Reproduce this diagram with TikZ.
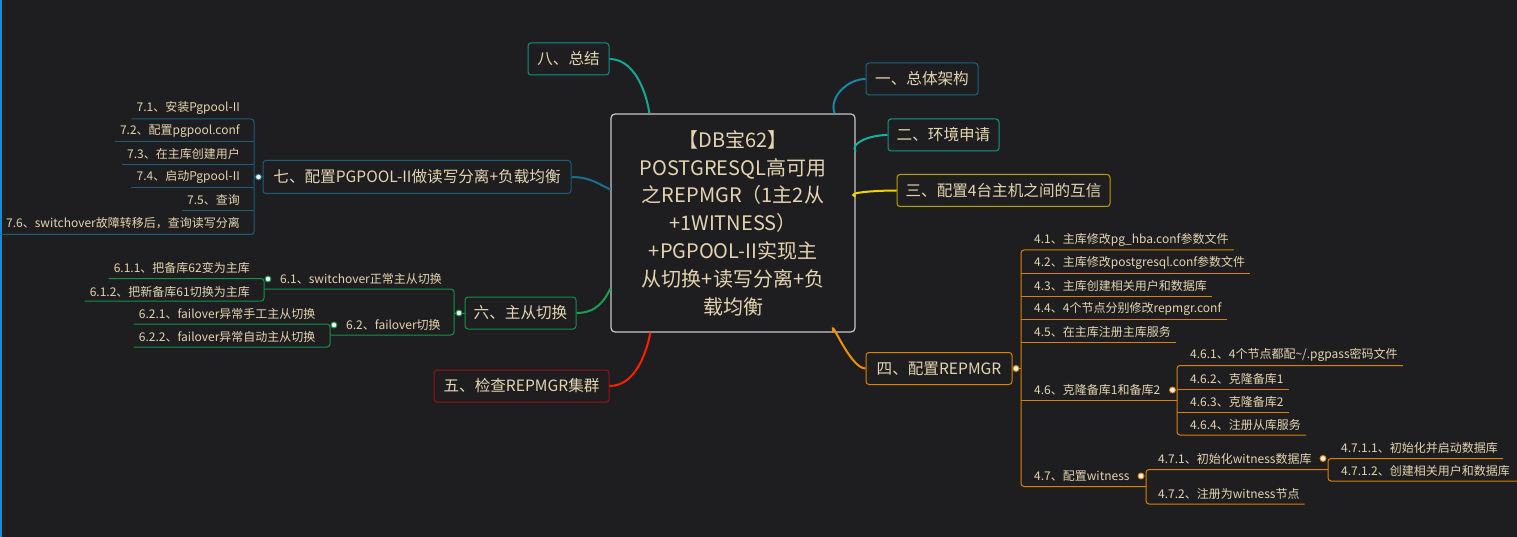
\documentclass[tikz,border=0pt]{standalone}
\usepackage{fontspec}
\setmainfont{Noto Sans CJK SC}
\definecolor{bg}{HTML}{1E1E20}
\definecolor{txt}{HTML}{E4D4B0}
\definecolor{cborder}{HTML}{C8C8C8}
\definecolor{edgeblue}{HTML}{1E88D0}
\definecolor{dotfill}{HTML}{F0F0F0}
\definecolor{b8}{HTML}{138F80}\definecolor{l8}{HTML}{12A898}
\definecolor{b1}{HTML}{17667E}\definecolor{l1}{HTML}{1586A8}
\definecolor{b2}{HTML}{139688}\definecolor{l2}{HTML}{16B0A0}
\definecolor{b3}{HTML}{B8A200}\definecolor{l3}{HTML}{F2D400}
\definecolor{b4}{HTML}{D98200}\definecolor{l4}{HTML}{F09000}
\definecolor{b5}{HTML}{A01010}\definecolor{l5}{HTML}{FF2000}
\definecolor{b6}{HTML}{14904A}\definecolor{l6}{HTML}{16A050}
\definecolor{b7}{HTML}{1A5E78}\definecolor{l7}{HTML}{1A6E90}
\tikzset{
  mainbox/.style={draw, rounded corners=3pt, line width=1pt, fill=bg, text=txt,
    font=\fontsize{15.6}{18}\selectfont, minimum height=32pt, inner sep=0pt},
  lab/.style={text=txt, font=\fontsize{12}{15}\selectfont, inner xsep=5pt, inner ysep=0pt},
  dotc/.style={circle, draw, fill=dotfill, minimum size=6pt, inner sep=0pt, line width=0.9pt},
  conn/.style={line width=2pt},
  sub/.style={line width=1pt, rounded corners=3pt}
}
\begin{document}
\begin{tikzpicture}[x=1pt,y=-1pt]
\useasboundingbox (0,0) rectangle (1517,537);
\fill[bg] (0,0) rectangle (1517,537);
\fill[edgeblue] (0,0) rectangle (1.5,537);

% central node
\node[draw=cborder, rounded corners=4pt, line width=1.2pt, fill=bg, minimum width=244pt,
  minimum height=218pt, inner sep=0pt, align=center, text=txt,
  font=\fontsize{20}{27.8}\selectfont] (c) at (733,223)
  {【DB宝62】\\POSTGRESQL高可用\\之REPMGR（1主2从\\+1WITNESS）\\+PGPOOL-II实现主\\从切换+读写分离+负\\载均衡};

% main branch nodes
\node[mainbox, draw=b8, minimum width=81pt] (n8) at (568.5,59) {八、总结};
\node[mainbox, draw=b1, minimum width=112pt] (n1) at (922,79) {一、总体架构};
\node[mainbox, draw=b2, minimum width=111pt] (n2) at (943.5,135) {二、环境申请};
\node[mainbox, draw=b3, minimum width=213pt] (n3) at (1003.5,190.5) {三、配置4台主机之间的互信};
\node[mainbox, draw=b4, minimum width=146pt] (n4) at (939,368.5) {四、配置REPMGR};
\node[mainbox, draw=b5, minimum width=175pt] (n5) at (521.5,386) {五、检查REPMGR集群};
\node[mainbox, draw=b6, minimum width=111pt] (n6) at (520.5,313) {六、主从切换};
\node[mainbox, draw=b7, minimum width=308pt, minimum height=33pt] (n7) at (417,177) {七、配置PGPOOL-II做读写分离+负载均衡};

% main connectors
\draw[conn, l8] (n8.east) .. controls +(23,0) and +(-4,-26) .. ([xshift=39pt]c.north west);
\draw[conn, l1] (n1.west) .. controls +(-18,0) and +(-6,-16) .. ([xshift=-21pt]c.north east);
\draw[conn, l2] (n2.west) .. controls +(-18,0) and +(-6,-8) .. ([yshift=-38pt]c.north east);
\draw[conn, l3] (n3.west) .. controls +(-18,0) and +(-12,-4) .. ([yshift=-83pt]c.north east);
\draw[conn, l4] (n4.west) .. controls +(-16,0) and +(-5,-20) .. ([xshift=-22pt]c.south east);
\draw[conn, l5] (n5.east) .. controls +(26,0) and +(-4,20) .. ([xshift=40pt]c.south west);
\draw[conn, l6] (n6.east) .. controls +(20,0) and +(-6,12) .. ([yshift=44pt]c.south west);
\draw[conn, l7] (n7.east) .. controls +(20,0) and +(-10,-4) .. ([yshift=-76pt]c.north west);

% ---------- branch 7 (left) ----------
\node[lab, anchor=east] (n71) at (245,108) {7.1、安装Pgpool-II};
\node[lab, anchor=east] (n72) at (245,131) {7.2、配置pgpool.conf};
\node[lab, anchor=east] (n73) at (245,154) {7.3、在主库创建用户};
\node[lab, anchor=east] (n74) at (245,177) {7.4、启动Pgpool-II};
\node[lab, anchor=east] (n75) at (245,200) {7.5、查询};
\node[lab, anchor=east] (n76) at (245,223) {7.6、switchover故障转移后，查询读写分离};
\draw[sub, b7] (n71.west |- 0,119) -- (254,119) -- (254,234.5) -- (0,234.5);
\draw[sub, b7] (n72.west |- 0,142) -- (254,142);
\draw[sub, b7] (n73.west |- 0,165) -- (254,165);
\draw[sub, b7] (n74.west |- 0,188) -- (254,188);
\draw[sub, b7] (n75.west |- 0,211) -- (254,211);
\draw[sub, b7] (254,177) -- (n7.west);
\node[dotc, draw=b7] (d7) at (258.5,177) {};

% ---------- branch 6 (left) ----------
\node[lab, anchor=west] (n61) at (275,279) {6.1、switchover正常主从切换};
\node[lab, anchor=west] (n62) at (341,325) {6.2、failover切换};
\node[lab, anchor=east] (n611) at (255,268) {6.1.1、把备库62变为主库};
\node[lab, anchor=east] (n612) at (255,291.5) {6.1.2、把新备库61切换为主库};
\node[lab, anchor=east] (n621) at (320.6,313.5) {6.2.1、failover异常手工主从切换};
\node[lab, anchor=east] (n622) at (320.6,337) {6.2.2、failover异常自动主从切换};
\draw[sub, b6] (264,289) -- (454,289) -- (454,335) -- (330,335);
\draw[sub, b6] (454,313) -- (n6.west);
\draw[sub, b6] (n611.west |- 0,278.5) -- (264,278.5) -- (264,301) -- (n612.west |- 0,301);
\draw[sub, b6] (n621.west |- 0,324) -- (330,324) -- (330,347) -- (n622.west |- 0,347);
\node[dotc, draw=b6] (d6) at (459,313) {};
\node[dotc, draw=b6] (d61) at (268,279) {};
\node[dotc, draw=b6] (d62) at (334,325) {};

% ---------- branch 4 (right) ----------
\node[lab, anchor=west] (n41) at (1029,240) {4.1、主库修改pg\_hba.conf参数文件};
\node[lab, anchor=west] (n42) at (1029,263) {4.2、主库修改postgresql.conf参数文件};
\node[lab, anchor=west] (n43) at (1029,286) {4.3、主库创建相关用户和数据库};
\node[lab, anchor=west] (n44) at (1029,309) {4.4、4个节点分别修改repmgr.conf};
\node[lab, anchor=west] (n45) at (1029,332) {4.5、在主库注册主库服务};
\node[lab, anchor=west] (n46) at (1029,390) {4.6、克隆备库1和备库2};
\node[lab, anchor=west] (n461) at (1185,355) {4.6.1、4个节点都配\textasciitilde/.pgpass密码文件};
\node[lab, anchor=west] (n462) at (1185,378.5) {4.6.2、克隆备库1};
\node[lab, anchor=west] (n463) at (1185,402) {4.6.3、克隆备库2};
\node[lab, anchor=west] (n464) at (1185,425) {4.6.4、注册从库服务};
\node[lab, anchor=west] (n47) at (1029,476) {4.7、配置witness};
\node[lab, anchor=west] (n471) at (1153,458.5) {4.7.1、初始化witness数据库};
\node[lab, anchor=west] (n4711) at (1336,448) {4.7.1.1、初始化并启动数据库};
\node[lab, anchor=west] (n4712) at (1336,471) {4.7.1.2、创建相关用户和数据库};
\node[lab, anchor=west] (n472) at (1153,494) {4.7.2、注册为witness节点};

\draw[sub, b4] (n41.east |- 0,250) -- (1021,250) -- (1021,486.5) -- (1146,486.5);
\draw[sub, b4] (1021,273.5) -- (n42.east |- 0,273.5);
\draw[sub, b4] (1021,296.5) -- (n43.east |- 0,296.5);
\draw[sub, b4] (1021,319.5) -- (n44.east |- 0,319.5);
\draw[sub, b4] (1021,342.5) -- (n45.east |- 0,342.5);
\draw[sub, b4] (1021,400.5) -- (1177,400.5);
\draw[sub, b4] (n4.east) -- (1021,368.5);
% 4.6 sub-spine
\draw[sub, b4] (n461.east |- 0,365.5) -- (1177,365.5) -- (1177,435) -- (n464.east |- 0,435);
\draw[sub, b4] (1177,389) -- (n462.east |- 0,389);
\draw[sub, b4] (1177,412) -- (n463.east |- 0,412);
% 4.7 sub-spine
\draw[sub, b4] (1328,469.5) -- (1146,469.5) -- (1146,504) -- (n472.east |- 0,504);
\draw[sub, b4] (n4711.east |- 0,458.5) -- (1328,458.5) -- (1328,481) -- (1517,481);

\node[dotc, draw=b4] (d4) at (1016,368.5) {};
\node[dotc, draw=b4] (d46) at (1172.5,390) {};
\node[dotc, draw=b4] (d47) at (1141,476) {};
\node[dotc, draw=b4] (d471) at (1323,458.5) {};
\end{tikzpicture}
\end{document}
